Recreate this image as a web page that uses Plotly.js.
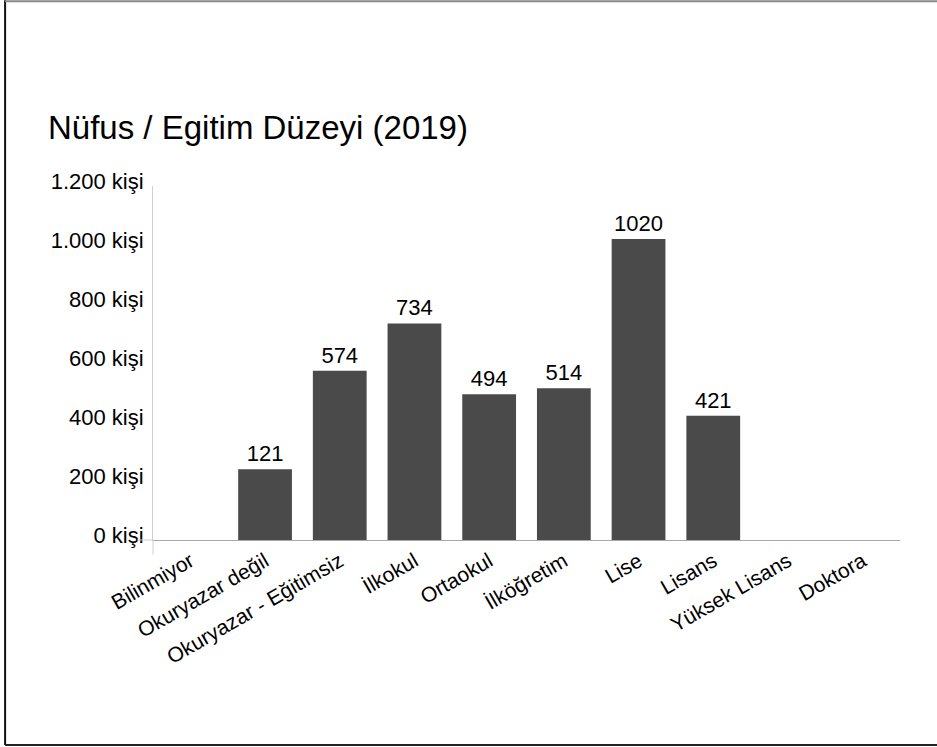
<!DOCTYPE html>
<html>
<head>
<meta charset="utf-8">
<script src="https://cdn.plot.ly/plotly-3.0.1.min.js"></script>
<style>
html,body{margin:0;padding:0;background:#fff;}
#chart{width:937px;height:747px;}
</style>
</head>
<body>
<div id="chart"></div>
<script>
// Categories (education levels)
var categories = ["Bilinmiyor", "Okuryazar değil", "Okuryazar - Eğitimsiz", "İlkokul", "Ortaokul", "İlköğretim", "Lise", "Lisans", "Yüksek Lisans", "Doktora"];
// Bar heights as drawn in the picture
var barHeights = [0, 240, 574, 734, 494, 514, 1020, 421, 0, 0];
// Value labels printed above the bars
var barLabels = ["", "121", "574", "734", "494", "514", "1020", "421", "", ""];
// Y axis ticks
var yTickVals = [0, 200, 400, 600, 800, 1000, 1200];
var yTickText = ["0 kişi", "200 kişi", "400 kişi", "600 kişi", "800 kişi", "1.000 kişi", "1.200 kişi"];
var chartTitle = "Nüfus / Egitim Düzeyi (2019)";

var FONT = "Liberation Sans, Arial, Helvetica, sans-serif";

var trace = {
  type: "bar",
  x: categories,
  y: barHeights,
  text: barLabels,
  textposition: "outside",
  cliponaxis: false,
  constraintext: "none",
  textfont: {family: FONT, size: 22, color: "#000"},
  marker: {color: "#4a4a4a", line: {width: 0}},
  hoverinfo: "none"
};

var layout = {
  width: 937,
  height: 747,
  margin: {l: 153, r: 37, t: 186, b: 207},
  paper_bgcolor: "#fff",
  plot_bgcolor: "#fff",
  showlegend: false,
  bargap: 0.28,
  font: {family: FONT, color: "#000"},
  title: {
    text: chartTitle,
    font: {family: FONT, size: 33, color: "#000"},
    xref: "container", yref: "container",
    x: 0.0512, xanchor: "left",
    y: 0.830, yanchor: "middle"
  },
  xaxis: {
    type: "category",
    range: [-0.5, 9.5],
    tickangle: -30,
    tickfont: {family: FONT, size: 21, color: "#000"},
    showline: true,
    linecolor: "#a8a8a8",
    linewidth: 1,
    showgrid: false,
    ticks: "",
    zeroline: false,
    fixedrange: true
  },
  yaxis: {
    range: [0, 1200],
    tickvals: yTickVals,
    ticktext: yTickText,
    tickfont: {family: FONT, size: 22, color: "#000"},
    ticklabelshift: -5,
    ticklabelstandoff: 4,
    showline: true,
    linecolor: "#d0d0d0",
    linewidth: 1,
    showgrid: false,
    zeroline: false,
    ticks: "",
    fixedrange: true
  },
  shapes: [
    // y axis line extension below baseline
    {type: "line", xref: "paper", yref: "paper", x0: 0, x1: 0, y0: -0.042, y1: 0, line: {color: "#d0d0d0", width: 1}},
    // x axis line extension left of y axis
    {type: "line", xref: "paper", yref: "paper", x0: -0.021, x1: 0, y0: 0, y1: 0, line: {color: "#d0d0d0", width: 1}},
    // frame: left
    {type: "line", xref: "paper", yref: "paper", x0: -0.198, x1: -0.198, y0: -0.579, y1: 1.525, line: {color: "#111", width: 2}},
    // frame: top
    {type: "line", xref: "paper", yref: "paper", x0: -0.198, x1: 1.05, y0: 1.522, y1: 1.522, line: {color: "#888", width: 2}},
    // frame: bottom
    {type: "line", xref: "paper", yref: "paper", x0: -0.198, x1: 1.05, y0: -0.579, y1: -0.579, line: {color: "#222", width: 2}}
  ]
};

Plotly.newPlot("chart", [trace], layout, {staticPlot: true, displayModeBar: false});
</script>
</body>
</html>
